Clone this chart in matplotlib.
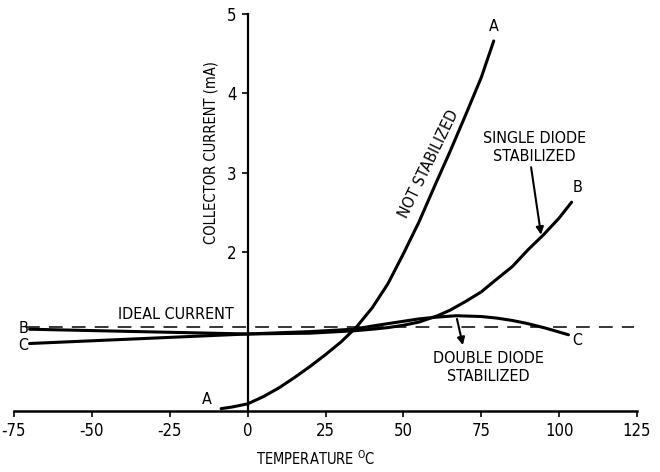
import matplotlib
matplotlib.use("Agg")
import matplotlib.pyplot as plt

plt.rcParams['font.family'] = ['DejaVu Sans']
plt.rcParams['font.stretch'] = 'condensed'
plt.rcParams['axes.unicode_minus'] = False

# Data
x_ticks = [-75, -50, -25, 0, 25, 50, 75, 100, 125]
y_ticks = [2, 3, 4, 5]

a_temp = [-8.5, -5, 0, 5, 10, 15, 20, 25, 30, 35, 40, 45, 50, 55, 60, 65, 70, 75, 79]
a_curr = [0.03, 0.05, 0.09, 0.18, 0.29, 0.42, 0.56, 0.71, 0.87, 1.06, 1.3, 1.6,
          1.98, 2.38, 2.83, 3.27, 3.73, 4.2, 4.66]

b_temp = [-70, -35, 0, 20, 34, 40, 45, 50, 55, 61, 65, 70, 75, 79, 85, 90, 95, 100, 104]
b_curr = [1.03, 1.0, 0.97, 0.98, 1.01, 1.03, 1.05, 1.08, 1.12, 1.2, 1.27, 1.38,
          1.5, 1.63, 1.82, 2.03, 2.22, 2.43, 2.63]

c_temp = [-70, -35, 0, 20, 34, 40, 45, 50, 55, 60, 67, 75, 80, 85, 90, 96, 103]
c_curr = [0.85, 0.91, 0.97, 1.0, 1.03, 1.07, 1.1, 1.13, 1.16, 1.18, 1.2, 1.19,
          1.17, 1.14, 1.1, 1.04, 0.96]

ideal_temp = [-71, 124]
ideal_curr = [1.06, 1.06]

fig = plt.figure(figsize=(6.6, 4.72), dpi=100)
ax = fig.add_axes([14 / 660, 1 - 411 / 472, 623 / 660, 397 / 472])
ax.set_xlim(-75, 125)
ax.set_ylim(0, 5)

ax.spines['top'].set_visible(False)
ax.spines['right'].set_visible(False)
ax.spines['left'].set_position(('data', 0))
ax.spines['left'].set_linewidth(1.6)
ax.spines['bottom'].set_linewidth(1.8)

ax.set_xticks(x_ticks)
ax.set_yticks(y_ticks)
ax.tick_params(axis='both', direction='out', length=4, width=1.2, labelsize=12)
ax.tick_params(axis='x', pad=4)
ax.tick_params(axis='y', pad=4)

lw = 2.2
ax.plot(a_temp, a_curr, color='black', lw=lw, solid_capstyle='round')
ax.plot(b_temp, b_curr, color='black', lw=lw, solid_capstyle='round')
ax.plot(c_temp, c_curr, color='black', lw=lw, solid_capstyle='round')
ax.plot(ideal_temp, ideal_curr, color='black', lw=1.1, dashes=(9, 6))

fs = 11.5
ax.text(-23, 1.21, 'IDEAL CURRENT', ha='center', va='center', fontsize=fs)
ax.text(-70.5, 1.04, 'B', ha='right', va='center', fontsize=fs)
ax.text(-70.5, 0.83, 'C', ha='right', va='center', fontsize=fs)
ax.text(-13, 0.15, 'A', ha='center', va='center', fontsize=fs)
ax.text(79.1, 4.84, 'A', ha='center', va='center', fontsize=fs)
ax.text(106, 2.81, 'B', ha='center', va='center', fontsize=fs)
ax.text(105.7, 0.89, 'C', ha='center', va='center', fontsize=fs)
ax.text(58.2, 3.11, 'NOT STABILIZED', ha='center', va='center', fontsize=fs,
        rotation=64, rotation_mode='anchor')
ax.text(92, 3.32, 'SINGLE DIODE\nSTABILIZED', ha='center', va='center',
        fontsize=fs, linespacing=1.25)
ax.text(77.2, 0.55, 'DOUBLE DIODE\nSTABILIZED', ha='center', va='center',
        fontsize=fs, linespacing=1.25)
ax.annotate('', xy=(94.2, 2.22), xytext=(91, 3.07),
            arrowprops=dict(arrowstyle='-|>', color='black', lw=1.5,
                            mutation_scale=11, shrinkA=0, shrinkB=0))
ax.annotate('', xy=(69.1, 0.83), xytext=(67.2, 1.16),
            arrowprops=dict(arrowstyle='-|>', color='black', lw=1.5,
                            mutation_scale=11, shrinkA=0, shrinkB=0))

ax.text(-11.8, 3.26, 'COLLECTOR CURRENT (mA)', rotation=90, ha='center',
        va='center', fontsize=10.5)
fig.text(316 / 660, 1 - 459 / 472, r'TEMPERATURE $^{\mathregular{O}}$C',
         ha='center', va='center', fontsize=10.5)

fig.savefig('out.png', dpi=100)
